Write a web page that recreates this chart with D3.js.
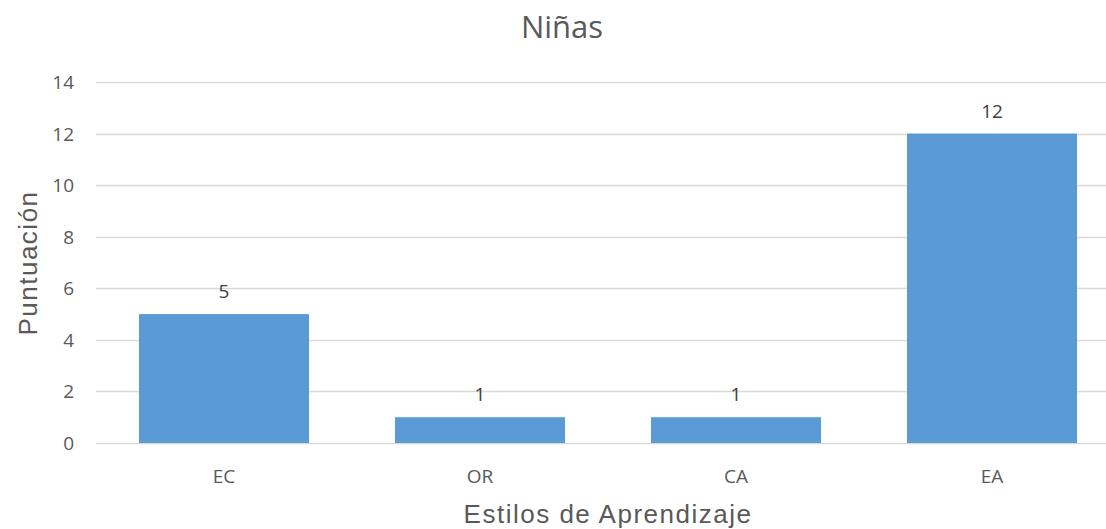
<!DOCTYPE html>
<html>
<head>
<meta charset="utf-8">
<script src="https://cdn.jsdelivr.net/npm/d3@7"></script>
<style>
  body { margin: 0; background: #fff; }
  text { font-family: "Open Sans", "DejaVu Sans", sans-serif; fill: #595959; }
</style>
</head>
<body>
<div id="graph"></div>
<script>
// data
var categories = ["EC", "OR", "CA", "EA"]
var values = [5, 1, 1, 12]
var yTicks = [0, 2, 4, 6, 8, 10, 12, 14]

var W = 1106, H = 529
var plotLeft = 96, plotRight = 1120, plotTop = 82, plotBottom = 443

var svg = d3.select("#graph")
  .append("svg")
  .attr("width", W)
  .attr("height", H)

// scales
var x = d3.scaleBand()
  .domain(categories)
  .range([plotLeft, plotRight])
  .paddingInner(0.336)
  .paddingOuter(0.168)

var y = d3.scaleLinear()
  .domain([0, 14])
  .range([plotBottom, plotTop])

// gridlines
svg.selectAll(".grid")
  .data(yTicks)
  .enter()
  .append("line")
  .attr("x1", plotLeft)
  .attr("x2", plotRight)
  .attr("y1", function(d){ return Math.round(y(d)) + 0.5 })
  .attr("y2", function(d){ return Math.round(y(d)) + 0.5 })
  .attr("stroke", "#d9d9d9")
  .attr("stroke-width", 1.5)

// y tick labels
svg.selectAll(".ytick")
  .data(yTicks)
  .enter()
  .append("text")
  .attr("x", 74)
  .attr("y", function(d){ return y(d) + 7 })
  .attr("text-anchor", "end")
  .style("font-size", "19px")
  .text(function(d){ return d })

// bars
svg.selectAll(".bar")
  .data(values)
  .enter()
  .append("rect")
  .attr("x", function(d, i){ return x(categories[i]) })
  .attr("y", function(d){ return y(d) })
  .attr("width", x.bandwidth())
  .attr("height", function(d){ return y(0) - y(d) })
  .style("fill", "#5b9bd5")

// value labels
svg.selectAll(".val")
  .data(values)
  .enter()
  .append("text")
  .attr("x", function(d, i){ return x(categories[i]) + x.bandwidth() / 2 })
  .attr("y", function(d){ return y(d) - 16 })
  .attr("text-anchor", "middle")
  .style("font-size", "19px")
  .style("fill", "#404040")
  .text(function(d){ return d })

// category labels
svg.selectAll(".cat")
  .data(categories)
  .enter()
  .append("text")
  .attr("x", function(d){ return x(d) + x.bandwidth() / 2 })
  .attr("y", 483)
  .attr("text-anchor", "middle")
  .style("font-size", "19px")
  .text(function(d){ return d })

// title
svg.append("text")
  .attr("x", 562)
  .attr("y", 38)
  .attr("text-anchor", "middle")
  .style("font-size", "31px")
  .text("Niñas")

// axis titles
svg.append("text")
  .attr("x", (plotLeft + plotRight) / 2)
  .attr("y", 523)
  .attr("text-anchor", "middle")
  .style("font-family", "'Liberation Sans', Arial, sans-serif")
  .style("font-size", "26px")
  .style("letter-spacing", "1.5px")
  .text("Estilos de Aprendizaje")

svg.append("text")
  .attr("transform", "translate(37," + 263 + ") rotate(-90)")
  .attr("text-anchor", "middle")
  .style("font-family", "'Liberation Sans', Arial, sans-serif")
  .style("font-size", "26px")
  .style("letter-spacing", "1.5px")
  .text("Puntuación")
</script>
</body>
</html>
